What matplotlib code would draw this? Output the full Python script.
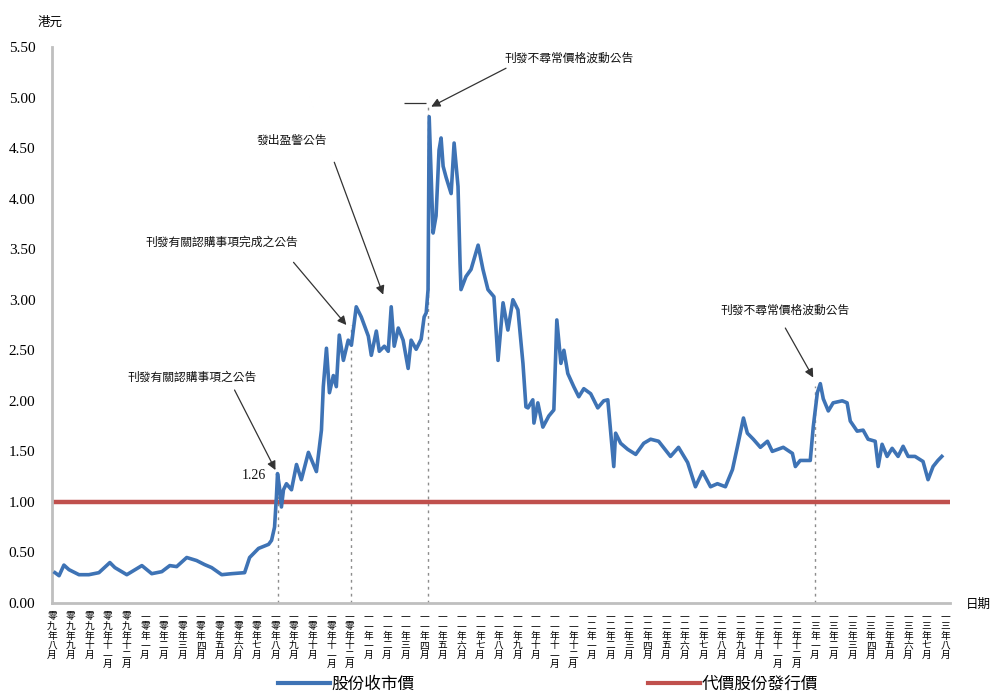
import matplotlib
matplotlib.use("Agg")
import matplotlib.pyplot as plt
from matplotlib.lines import Line2D

plt.rcParams['font.family'] = ['Noto Sans CJK TC', 'DejaVu Sans']

# ---- data: months since Aug 2009, closing price (HK$) ----
month_pos = [0.16, 0.38, 0.64, 0.91, 1.45, 1.98, 2.52, 3.11, 3.38, 4.02, 4.83, 5.36, 5.90,
             6.33, 6.70, 7.24, 7.77, 8.20, 8.58, 9.12, 9.65, 10.35, 10.62, 11.10, 11.64,
             11.80, 11.96, 12.06, 12.12, 12.22, 12.33, 12.44, 12.60, 12.87, 13.14, 13.40,
             13.78, 14.21, 14.48, 14.58, 14.75, 14.91, 15.12, 15.28, 15.44, 15.66, 15.92,
             16.09, 16.35, 16.62, 17.00, 17.16, 17.43, 17.59, 17.86, 18.07, 18.23, 18.39,
             18.61, 18.87, 19.14, 19.30, 19.57, 19.84, 20.00, 20.11, 20.21, 20.27, 20.48,
             20.64, 20.80, 20.91, 21.02, 21.18, 21.45, 21.61, 21.82, 21.93, 21.98, 22.25,
             22.52, 22.90, 23.16, 23.43, 23.75, 23.97, 24.24, 24.50, 24.77, 25.04, 25.31,
             25.47, 25.58, 25.84, 25.90, 26.11, 26.38, 26.70, 26.97, 27.13, 27.35, 27.51,
             27.72, 28.04, 28.31, 28.58, 28.95, 29.33, 29.65, 29.87, 30.03, 30.19, 30.29,
             30.56, 30.94, 31.37, 31.80, 32.17, 32.60, 33.24, 33.67, 34.16, 34.58, 34.96,
             35.39, 35.76, 36.19, 36.57, 36.84, 37.16, 37.37, 37.69, 38.07, 38.45, 38.71,
             39.30, 39.79, 39.95, 40.21, 40.75, 40.91, 41.13, 41.29, 41.45, 41.72, 41.98,
             42.47, 42.73, 42.90, 43.27, 43.59, 43.86, 44.24, 44.40, 44.61, 44.88, 45.15,
             45.47, 45.74, 46.01, 46.38, 46.81, 47.08, 47.35, 47.61, 47.82]
close_price = [0.30, 0.27, 0.375, 0.33, 0.28, 0.28, 0.30, 0.40, 0.35, 0.28, 0.37, 0.29, 0.31,
               0.37, 0.36, 0.45, 0.42, 0.38, 0.35, 0.28, 0.29, 0.30, 0.45, 0.54, 0.58,
               0.62, 0.75, 1.05, 1.28, 1.15, 0.95, 1.12, 1.18, 1.12, 1.37, 1.22,
               1.49, 1.30, 1.71, 2.14, 2.52, 2.08, 2.25, 2.14, 2.65, 2.40, 2.60,
               2.55, 2.93, 2.83, 2.64, 2.45, 2.69, 2.49, 2.54, 2.49, 2.93, 2.54,
               2.72, 2.60, 2.32, 2.60, 2.51, 2.61, 2.83, 2.87, 3.10, 4.81, 3.66,
               3.83, 4.48, 4.60, 4.32, 4.21, 4.05, 4.55, 4.12, 3.36, 3.10, 3.23,
               3.30, 3.54, 3.30, 3.10, 3.03, 2.40, 2.97, 2.70, 3.00, 2.90, 2.37,
               1.94, 1.93, 2.01, 1.78, 1.98, 1.74, 1.85, 1.91, 2.80, 2.37, 2.50,
               2.27, 2.14, 2.04, 2.12, 2.07, 1.93, 2.00, 2.01, 1.68, 1.35, 1.68,
               1.58, 1.52, 1.47, 1.58, 1.62, 1.60, 1.45, 1.54, 1.39, 1.15, 1.30,
               1.15, 1.18, 1.15, 1.32, 1.55, 1.83, 1.68, 1.62, 1.54, 1.60, 1.50,
               1.54, 1.48, 1.35, 1.41, 1.41, 1.74, 2.08, 2.17, 2.02, 1.90, 1.98,
               2.00, 1.98, 1.80, 1.70, 1.71, 1.62, 1.60, 1.35, 1.57, 1.45, 1.53,
               1.45, 1.55, 1.45, 1.45, 1.40, 1.22, 1.35, 1.41, 1.45]
issue_price = 1.00

years = ["零九"] * 5 + ["一零"] * 12 + ["一一"] * 12 + ["一二"] * 12 + ["一三"] * 8
months = (["八", "九", "十", "十一", "十二"]
          + ["一", "二", "三", "四", "五", "六", "七", "八", "九", "十", "十一", "十二"] * 3
          + ["一", "二", "三", "四", "五", "六", "七", "八"])
tick_labels = [y + "年" + m + "月" for y, m in zip(years, months)]
y_ticks = [0.0, 0.5, 1.0, 1.5, 2.0, 2.5, 3.0, 3.5, 4.0, 4.5, 5.0, 5.5]

# events: (x, y of dotted line top)
event_x = [12.12, 16.09, 20.21, 41.02]
event_top = [1.26, 2.75, 4.95, 2.15]

notes = ["刊發有關認購事項之公告", "刊發有關認購事項完成之公告", "發出盈警公告",
         "刊發不尋常價格波動公告", "刊發不尋常價格波動公告"]
note_text_xy = [(7.51, 2.235), (9.12, 3.57), (12.87, 4.58), (27.77, 5.39), (39.41, 2.90)]
note_tail_xy = [(9.81, 2.107), (12.98, 3.37), (15.17, 4.36), (24.40, 5.29), (39.41, 2.72)]
note_head_xy = [(12.01, 1.315), (15.82, 2.75), (17.80, 3.05), (20.38, 4.91), (40.91, 2.23)]

# ---- figure ----
fig = plt.figure(figsize=(9.96, 6.93), dpi=100)
ax = fig.add_axes([52 / 996, 90 / 693, (950 - 52) / 996, (646 - 90) / 693])

blue = "#3E73B5"
red = "#C0504D"

ax.axhline(issue_price, color=red, lw=3.2, zorder=2)
ax.plot(month_pos, close_price, color=blue, lw=2.6, zorder=3, solid_joinstyle='round')

ax.vlines(event_x, 0, event_top, colors="#8c8c8c", linestyles=(0, (2, 3)), lw=1.0, zorder=1)
ax.hlines(4.95, 18.93, 20.11, colors="#333333", lw=0.9)

for txt, txy, tail, head in zip(notes, note_text_xy, note_tail_xy, note_head_xy):
    ax.text(txy[0], txy[1], txt, ha="center", va="center", fontsize=8.5, color="#111111",
            family=['Noto Sans CJK TC', 'DejaVu Sans'])
    ax.annotate("", xy=head, xytext=tail,
                arrowprops=dict(arrowstyle="-|>", color="#333333", lw=0.9,
                                mutation_scale=13, shrinkA=0, shrinkB=0))

ax.text(12.12 - 0.6, 1.26, "1.26", ha="right", va="center", fontsize=10,
        family="Liberation Serif", color="#111111")

ax.set_xlim(0.1, 48.26)
ax.set_ylim(0, 5.5)
ax.set_yticks(y_ticks)
ax.set_yticklabels([f"{v:.2f}" for v in y_ticks], family="Liberation Serif", fontsize=11)
ax.set_xticks(range(len(tick_labels)))
ax.set_xticklabels(["\n".join(lbl) for lbl in tick_labels], fontsize=7, linespacing=0.95,
                   va="top")
for lbl in ax.get_xticklabels():
    lbl.set_clip_on(False)
ax.tick_params(axis="both", length=0)
ax.tick_params(axis="y", pad=12)
ax.tick_params(axis="x", pad=6)

for side in ("top", "right"):
    ax.spines[side].set_visible(False)
ax.spines["left"].set_color("#BFBFBF")
ax.spines["left"].set_linewidth(2)
ax.spines["bottom"].set_color("#BFBFBF")
ax.spines["bottom"].set_linewidth(2)

fig.text(50 / 996, 1 - 22 / 693, "港元", ha="center", va="center", fontsize=9,
         style="italic")
fig.text(978 / 996, 1 - 604 / 693, "日期", ha="center", va="center", fontsize=9,
         style="italic")

handles = [Line2D([0], [0], color=blue, lw=3), Line2D([0], [0], color=red, lw=3)]
fig.legend(handles, ["股份收市價", "代價股份發行價"], loc="lower center",
           bbox_to_anchor=(0.550, -0.022), ncol=2, frameon=False, fontsize=12,
           handlelength=3.1, handletextpad=0.1, columnspacing=14)

fig.savefig("out.png", dpi=100)
